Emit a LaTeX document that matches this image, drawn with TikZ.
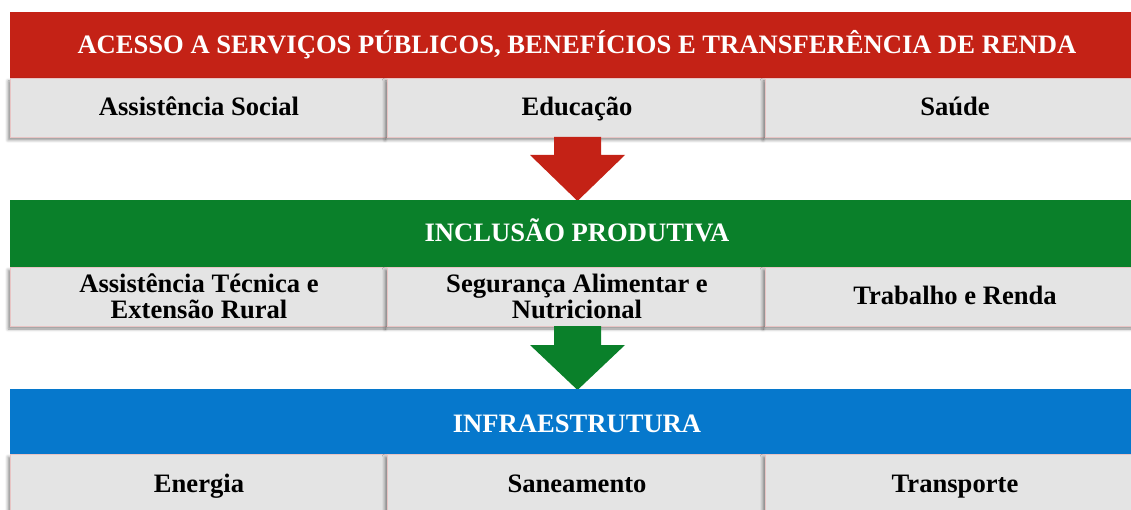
\documentclass[tikz,border=0pt]{standalone}
\usepackage{fontspec}
\setmainfont{Liberation Serif}
\usetikzlibrary{shadows.blur}
\definecolor{hred}{RGB}{196,34,22}
\definecolor{hgreen}{RGB}{10,128,42}
\definecolor{hblue}{RGB}{6,120,204}
\definecolor{cellgray}{RGB}{228,228,228}
\definecolor{cellline}{RGB}{232,196,196}
\tikzset{
  x=1pt, y=-1pt,
  htext/.style={text=white, font=\bfseries\fontsize{26.6}{28}\selectfont, anchor=base, inner sep=0pt},
  cell/.style={fill=cellgray, draw=cellline, line width=0.7pt,
    blur shadow={shadow xshift=-2pt, shadow yshift=-3pt, shadow blur radius=3pt, shadow opacity=45}},
  ctext/.style={font=\bfseries\fontsize{26.6}{26}\selectfont, align=center, anchor=base, inner sep=0pt}
}
\begin{document}
\begin{tikzpicture}
\useasboundingbox (0,0) rectangle (1131,510);
% row 1
\fill[hred] (10,12) rectangle (1131,78);
\node[htext] (h1) at (577,54) {ACESSO A SERVIÇOS PÚBLICOS, BENEFÍCIOS E TRANSFERÊNCIA DE RENDA};
\path[cell] (10,78) rectangle (387,137);
\path[cell] (387,78) rectangle (765,137);
\path[cell] (765,78) rectangle (1134,137);
\node[ctext] (a1) at (199,116) {Assistência Social};
\node[ctext] (a2) at (577,116) {Educação};
\node[ctext] (a3) at (955,116) {Saúde};
% arrow 1
\fill[hred] (554,137) -- (601,137) -- (601,155) -- (625,155) -- (577.5,201) -- (530,155) -- (554,155) -- cycle;
% row 2
\fill[hgreen] (10,200) rectangle (1131,267);
\node[htext] (h2) at (577,242) {INCLUSÃO PRODUTIVA};
\path[cell] (10,267) rectangle (387,326);
\path[cell] (387,267) rectangle (765,326);
\path[cell] (765,267) rectangle (1134,326);
\node[ctext] (b1) at (199,318) {Assistência Técnica e\\Extensão Rural};
\node[ctext] (b2) at (577,318) {Segurança Alimentar e\\Nutricional};
\node[ctext] (b3) at (955,305) {Trabalho e Renda};
% arrow 2
\fill[hgreen] (554,326) -- (601,326) -- (601,345) -- (625,345) -- (577.5,390) -- (530,345) -- (554,345) -- cycle;
% row 3
\fill[hblue] (10,389) rectangle (1131,454);
\node[htext] (h3) at (577,432) {INFRAESTRUTURA};
\path[cell] (10,454) rectangle (387,515);
\path[cell] (387,454) rectangle (765,515);
\path[cell] (765,454) rectangle (1134,515);
\node[ctext] (c1) at (199,492) {Energia};
\node[ctext] (c2) at (577,492) {Saneamento};
\node[ctext] (c3) at (955,492) {Transporte};
\end{tikzpicture}
\end{document}
